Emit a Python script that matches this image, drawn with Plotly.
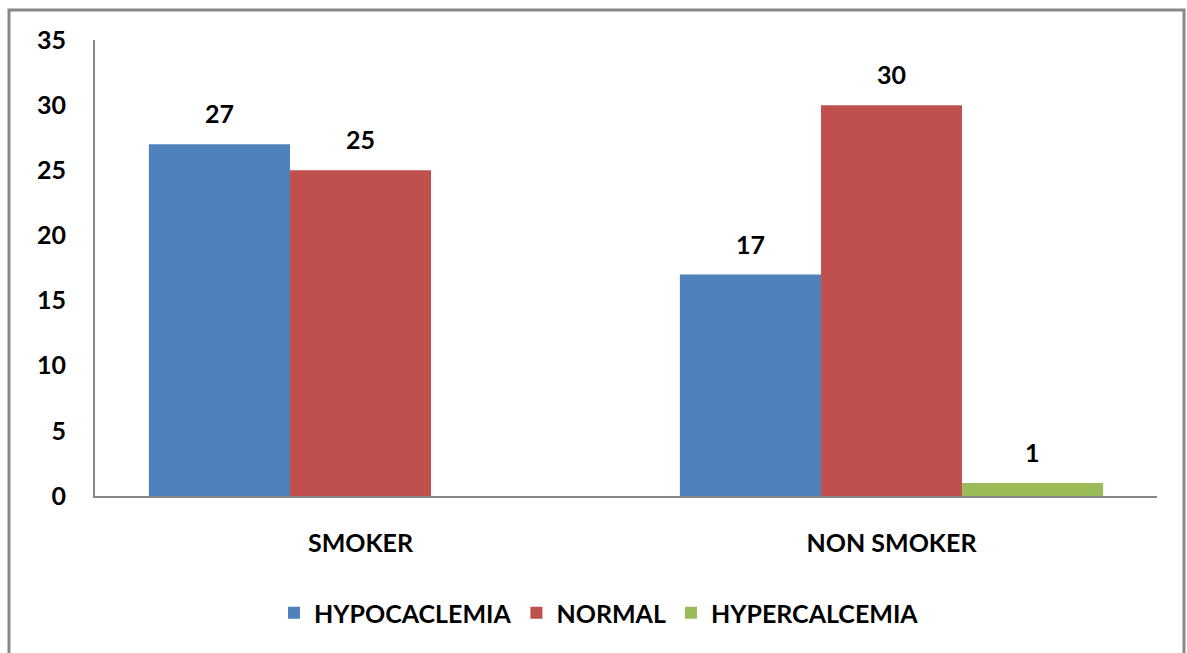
import plotly.graph_objects as go

categories = ["SMOKER", "NON SMOKER"]
hypocaclemia = [27, 17]
normal = [25, 30]
hypercalcemia = [0, 1]
hyper_labels = ["", "1"]

FONT = "Lato"
FS = 25
W, H = 1187, 653
l, r, t, b = 95, 30, 40, 157
pw, ph = W - l - r, H - t - b
def px(x): return (x - l) / pw
def py(y): return (H - b - y) / ph

BARGAP = 0.203
fig = go.Figure()
series = [
    ("HYPOCACLEMIA", hypocaclemia, "#4F81BD", [str(v) for v in hypocaclemia]),
    ("NORMAL", normal, "#C0504D", [str(v) for v in normal]),
    ("HYPERCALCEMIA", hypercalcemia, "#9BBB59", hyper_labels),
]
bar_px = pw / len(categories) * (1 - BARGAP) / len(series)
annotations = []
for i, (name, vals, col, txt) in enumerate(series):
    fig.add_trace(go.Bar(
        name=name, x=categories, y=vals, marker=dict(color=col, line=dict(width=0)),
    ))
    for cat, v, s in zip(categories, vals, txt):
        if s:
            annotations.append(dict(
                x=cat, y=v, xref="x", yref="y", text=s, showarrow=False,
                xshift=(i - 1) * bar_px, yanchor="bottom", yshift=14,
                font=dict(family=FONT, size=FS, color="black", weight="bold")))

fig.update_layout(
    width=W, height=H,
    margin=dict(l=l, r=r, t=t, b=b),
    paper_bgcolor="white", plot_bgcolor="white",
    barmode="group", bargap=BARGAP, bargroupgap=0,
    font=dict(family=FONT, size=FS, color="black", weight="bold"),
    showlegend=True,
    legend=dict(orientation="h", x=px(599), xanchor="center", y=py(613), yanchor="middle",
                font=dict(family=FONT, size=FS, color="black", weight="bold"),
                itemwidth=30, traceorder="normal"),
    xaxis=dict(showline=True, linecolor="#888888", linewidth=2, showgrid=False,
               ticks="", ticklabelstandoff=24,
               tickfont=dict(family=FONT, size=FS, color="black", weight="bold")),
    yaxis=dict(range=[0, 35], dtick=5, showline=True, linecolor="#888888", linewidth=2,
               showgrid=False, ticks="", ticklabelstandoff=22, zeroline=False,
               tickfont=dict(family=FONT, size=FS, color="black", weight="bold")),
    annotations=annotations,
    shapes=[dict(type="rect", xref="paper", yref="paper",
                 x0=px(9), x1=px(1184), y0=py(700), y1=py(10),
                 line=dict(color="#888888", width=3), fillcolor="rgba(0,0,0,0)", layer="below")],
)
fig.write_html("out.html", config={"displayModeBar": False},
               post_script="document.body.style.margin='0';document.body.style.overflow='hidden';")
